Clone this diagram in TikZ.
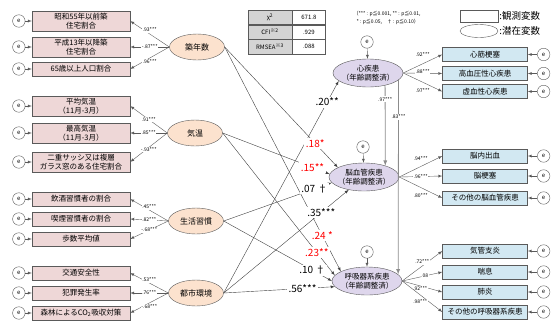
\documentclass[tikz,border=0pt]{standalone}
\usepackage{fontspec}
\setmainfont{Noto Sans CJK JP}
\usetikzlibrary{positioning, shapes.geometric}

\definecolor{obsPink}{RGB}{238,215,215}
\definecolor{obsBlue}{RGB}{210,232,242}
\definecolor{latPeach}{RGB}{252,226,206}
\definecolor{latLilac}{RGB}{222,214,236}
\definecolor{lineGray}{RGB}{90,90,90}

\begin{document}
\begin{tikzpicture}[
        x=1pt, y=-1pt, % 1px = 1pt, y は下向き
        kansokuL/.style={rectangle, draw=lineGray, fill=obsPink, minimum width=98pt, minimum height=14pt, inner sep=1.5pt, align=center, font=\fontsize{7.5}{9.5}\selectfont},
        kansokuR/.style={kansokuL, fill=obsBlue, minimum width=85pt},
        senzaiL/.style={ellipse, draw=lineGray, fill=latPeach, minimum width=55pt, minimum height=26pt, inner sep=0pt, font=\fontsize{8}{9.5}\selectfont},
        senzaiR/.style={ellipse, draw=lineGray, fill=latLilac, minimum width=70pt, minimum height=28pt, inner xsep=-2pt, inner ysep=0pt, align=center, font=\fontsize{7.5}{9.5}\selectfont},
        ecirc/.style={circle, draw=lineGray, fill=white, minimum size=12.5pt, inner sep=0pt, font=\fontsize{6}{6}\selectfont},
        yaji/.style={draw=lineGray, -latex},
        keiro/.style={draw=black!75, -latex},
        tate/.style={draw=black!45, line width=0.8pt, -latex},
        lodlab/.style={fill=white, inner sep=0.6pt, font=\fontsize{5}{5}\selectfont},
        coef/.style={fill=white, inner sep=1.5pt, font=\fontsize{10}{10}\selectfont},
        coefR/.style={coef, text=red},
        cellL/.style={draw=lineGray, fill=black!17, minimum width=44pt, minimum height=14.3pt, inner sep=0pt, font=\fontsize{6}{6}\selectfont},
        cellR/.style={cellL, fill=white, minimum width=33pt},
    ]
    \useasboundingbox (0,0) rectangle (551,327);

    % 観測変数（左）
    \node[kansokuL] (b1) at (81,21) {昭和55年以前築\\住宅割合};
    \node[kansokuL] (b2) at (81,47) {平成13年以降築\\住宅割合};
    \node[kansokuL] (b3) at (81,69) {65歳以上人口割合};
    \node[kansokuL] (b4) at (81,106) {平均気温\\（11月-3月）};
    \node[kansokuL] (b5) at (81,133) {最高気温\\（11月-3月）};
    \node[kansokuL] (b6) at (81,162) {二重サッシ又は複層\\ガラス窓のある住宅割合};
    \node[kansokuL] (b7) at (81,199) {飲酒習慣者の割合};
    \node[kansokuL] (b8) at (81,219) {喫煙習慣者の割合};
    \node[kansokuL] (b9) at (81,239) {歩数平均値};
    \node[kansokuL] (b10) at (81,273) {交通安全性};
    \node[kansokuL] (b11) at (81,293) {犯罪発生率};
    \node[kansokuL] (b12) at (81,313) {森林によるCO\textsubscript{2}吸収対策};
    \foreach \i in {1,...,12} {
        \node[ecirc, left=6.5pt of b\i] (eb\i) {e};
        \draw[yaji] (eb\i) -- (b\i);
    }

    % 潜在変数（左）
    \node[senzaiL] (l1) at (197,47) {築年数};
    \node[senzaiL] (l2) at (195,133) {気温};
    \node[senzaiL] (l3) at (196,221) {生活習慣};
    \node[senzaiL] (l4) at (196,293) {都市環境};

    \draw[yaji] (l1.west) -- node[lodlab, yshift=4pt] (m1) {.93***} (b1.east);
    \draw[yaji] (l1.west) -- node[lodlab] (m2) {-.87***} (b2.east);
    \draw[yaji] (l1.west) -- node[lodlab, yshift=-4pt] (m3) {.96***} (b3.east);
    \draw[yaji] (l2.west) -- node[lodlab] (m4) {.91***} (b4.east);
    \draw[yaji] (l2.west) -- node[lodlab] (m5) {.85***} (b5.east);
    \draw[yaji] (l2.west) -- node[lodlab, yshift=-2pt] (m6) {-.93***} (b6.east);
    \draw[yaji] (l3.west) -- node[lodlab, yshift=3pt] (m7) {.45***} (b7.east);
    \draw[yaji] (l3.west) -- node[lodlab] (m8) {.82***} (b8.east);
    \draw[yaji] (l3.west) -- node[lodlab] (m9) {-.68***} (b9.east);
    \draw[yaji] (l4.west) -- node[lodlab, yshift=3pt] (m10) {.53***} (b10.east);
    \draw[yaji] (l4.west) -- node[lodlab] (m11) {.76***} (b11.east);
    \draw[yaji] (l4.west) -- node[lodlab, yshift=-4pt] (m12) {-.68***} (b12.east);

    % 潜在変数（右）
    \node[senzaiR] (r1) at (368,73) {心疾患\\（年齢調整済）};
    \node[senzaiR] (r2) at (364,177) {脳血管疾患\\（年齢調整済）};
    \node[senzaiR] (r3) at (367,281) {呼吸器系疾患\\（年齢調整済）};
    \node[ecirc] (er1) at (367,42) {e};
    \node[ecirc] (er2) at (363,147) {e};
    \node[ecirc] (er3) at (367,252) {e};
    \draw[yaji] (er1) -- (r1);
    \draw[yaji] (er2) -- (r2);
    \draw[yaji] (er3) -- (r3);

    % 観測変数（右）
    \node[kansokuR] (c1) at (485,54.5) {心筋梗塞};
    \node[kansokuR] (c2) at (485,73.5) {高血圧性心疾患};
    \node[kansokuR] (c3) at (485,91.5) {虚血性心疾患};
    \node[kansokuR] (c4) at (485,156) {脳内出血};
    \node[kansokuR] (c5) at (485,176) {脳梗塞};
    \node[kansokuR] (c6) at (485,198) {その他の脳血管疾患};
    \node[kansokuR] (c7) at (485,251) {気管支炎};
    \node[kansokuR] (c8) at (485,272) {喘息};
    \node[kansokuR] (c9) at (485,292) {肺炎};
    \node[kansokuR] (c10) at (485,312) {その他の呼吸器系疾患};
    \foreach \i in {1,...,10} {
        \node[ecirc, right=9.5pt of c\i] (ec\i) {e};
        \draw[yaji] (ec\i) -- (c\i);
    }

    \draw[yaji] (r1.east) -- node[lodlab, yshift=9pt] (n1) {.92***} (c1.west);
    \draw[yaji] (r1.east) -- node[lodlab, yshift=2pt] (n2) {.88***} (c2.west);
    \draw[yaji] (r1.east) -- node[lodlab, yshift=-8pt] (n3) {.97***} (c3.west);
    \draw[yaji] (r2.east) -- node[lodlab, yshift=8pt] (n4) {.94***} (c4.west);
    \draw[yaji] (r2.east) -- node[lodlab] (n5) {.96***} (c5.west);
    \draw[yaji] (r2.east) -- node[lodlab, yshift=-8pt] (n6) {.80***} (c6.west);
    \draw[yaji] (r3.east) -- node[lodlab, yshift=4pt] (n7) {.72***} (c7.west);
    \draw[yaji] (r3.east) -- node[lodlab, pos=0.56] (n8) {.08} (c8.west);
    \draw[yaji] (r3.east) -- node[lodlab, pos=0.45, yshift=-3pt] (n9) {.92***} (c9.west);
    \draw[yaji] (r3.east) -- node[lodlab, pos=0.45, yshift=-7pt] (n10) {.98***} (c10.west);

    % 構造方程式のパス
    \draw[keiro] (l4.east) -- coordinate[pos=0.9] (p1) (r1.195);
    \draw[keiro] (l1.east) -- coordinate[pos=0.8] (p2) (r2.160);
    \draw[keiro] (l2.east) -- coordinate[pos=0.84] (p3) (r2.175);
    \draw[keiro] (l3.east) -- coordinate[pos=0.84] (p4) (r2.190);
    \draw[keiro] (l4.east) -- coordinate[pos=0.78] (p5) (r2.220);
    \draw[keiro] (l1.east) -- coordinate[pos=0.84] (p6) (r3.160);
    \draw[keiro] (l2.east) -- coordinate[pos=0.84] (p7) (r3.170);
    \draw[keiro] (l3.east) -- coordinate[pos=0.82] (p8) (r3.180);
    \draw[keiro] (l4.east) -- coordinate[pos=0.71] (p9) (r3.190);
    \draw[tate] (r1.-36) -- coordinate[pos=0.17] (p10) (r2.28);
    \draw[tate] (r1.-13) -- coordinate[pos=0.19] (p11) (r3.12);

    \node[coef] (k1) at (p1) {.20**};
    \node[coefR] (k2) at (p2) {.18*};
    \node[coefR] (k3) at (p3) {.15**};
    \node[coef] (k4) at (p4) {.07 †};
    \node[coef] (k5) at (p5) {.35***};
    \node[coefR] (k6) at (p6) {.24 *};
    \node[coefR] (k7) at (p7) {.23**};
    \node[coef] (k8) at (p8) {.10 †};
    \node[coef] (k9) at (p9) {.56***};
    \node[lodlab] (k10) at (p10) {.97***};
    \node[lodlab] (k11) at (p11) {.83***};

    % 適合度
    \node[cellL] (t1) at (270,17.2) {χ\textsuperscript{2}};
    \node[cellL, below=0pt of t1] (t2) {CFI\textsuperscript{※2}};
    \node[cellL, below=0pt of t2] (t3) {RMSEA\textsuperscript{※3}};
    \node[cellR, right=0pt of t1] (v1) {671.8};
    \node[cellR, right=0pt of t2] (v2) {.929};
    \node[cellR, right=0pt of t3] (v3) {.088};

    \node[align=left, inner sep=0pt, font=\fontsize{5}{8}\selectfont] (chu) at (387,18)
        {（*** : p≦0.001, ** : p≦0.01,\\\hspace{3pt}* : p≦0.05,\hspace{5pt}† : p≦0.10）};

    % 凡例
    \node[draw=lineGray, minimum width=38pt, minimum height=12pt, inner sep=0pt] (hanrei1) at (479,16) {};
    \node[anchor=west, inner sep=1pt, font=\fontsize{9.5}{10}\selectfont] (hanrei1t) at (hanrei1.east) {:観測変数};
    \node[ellipse, draw=lineGray, minimum width=38pt, minimum height=13pt, inner sep=0pt] (hanrei2) at (479,31) {};
    \node[anchor=west, inner sep=1pt, font=\fontsize{9.5}{10}\selectfont] (hanrei2t) at (hanrei2.east) {:潜在変数};
\end{tikzpicture}
\end{document}
